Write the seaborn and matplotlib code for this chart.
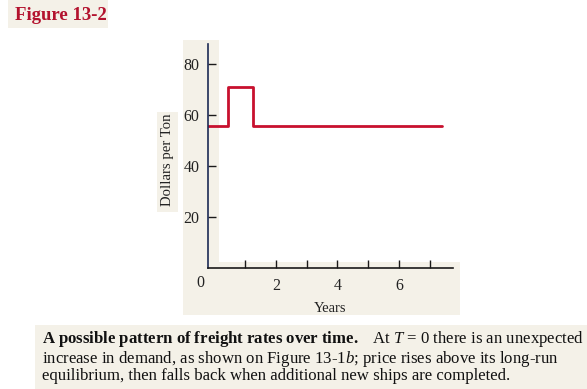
import numpy as np
import pandas as pd
import matplotlib
matplotlib.use("Agg")
import matplotlib.pyplot as plt
import seaborn as sns
from matplotlib.patches import Rectangle

# data
years = [-0.2, 0.45, 1.25, 7.4]        # step change points
rate = [55.5, 71.0, 55.5, 55.5]        # dollars per ton
x_major = [2, 4, 6]
x_minor = [1, 3, 5, 7]
y_ticks = [20, 40, 60, 80]

title_txt = "Figure 13-2"
cap_line1 = r"$\mathbf{A\ possible\ pattern\ of\ freight\ rates\ over\ time.}$   At $T$ = 0 there is an unexpected"
cap_line2 = "increase in demand, as shown on Figure 13-1$b$; price rises above its long-run"
cap_line3 = "equilibrium, then falls back when additional new ships are completed."

sns.set_theme(style="ticks")
plt.rcParams["font.family"] = ["Liberation Serif", "DejaVu Serif"]
plt.rcParams["mathtext.fontset"] = "custom"
plt.rcParams["mathtext.rm"] = "Liberation Serif"
plt.rcParams["mathtext.it"] = "Liberation Serif:italic"
plt.rcParams["mathtext.bf"] = "Liberation Serif:bold"

W, H = 587, 389
fig = plt.figure(figsize=(W / 100, H / 100), dpi=100, facecolor="white")
beige = "#f4f1e8"
red = "#c8102e"

def px_rect(x0, y0, x1, y1, color):
    # pixel coords (top-left origin) -> figure fraction
    fig.patches.append(Rectangle((x0 / W, 1 - y1 / H), (x1 - x0) / W, (y1 - y0) / H,
                                 transform=fig.transFigure, facecolor=color,
                                 edgecolor="none", zorder=-5))

# scanned-page look
px_rect(8, 0, 108, 28, beige)
px_rect(35, 325, 587, 389, beige)
px_rect(183, 40, 460, 315, beige)
px_rect(219, 30, 470, 262, "white")
px_rect(157, 112, 178, 212, beige)

ax = fig.add_axes([208 / W, 1 - 268 / H, 245 / W, 224.4 / H])
ax.set_facecolor("none")
ax.set_zorder(2)

df = pd.DataFrame({"Years": years, "Rate": rate})
sns.lineplot(data=df, x="Years", y="Rate", ax=ax, color=red, lw=2.0,
             drawstyle="steps-post", sort=False)

ax.set_xlim(-0.2, 7.75)
ax.set_ylim(0, 88)
sns.despine(ax=ax)
ax.spines["left"].set_color("#1c2a55")
ax.spines["bottom"].set_color("#1a1a1a")
ax.spines["left"].set_linewidth(1.2)
ax.spines["bottom"].set_linewidth(1.2)

ax.set_xticks(x_major)
ax.set_xticklabels([str(v) for v in x_major])
ax.set_xticks(x_minor, minor=True)
ax.set_yticks(y_ticks)
ax.set_yticklabels([str(v) for v in y_ticks])
ax.tick_params(axis="both", which="both", direction="in", length=6, width=1,
               color="#1a1a1a", labelsize=11.5, labelcolor="#222222")
ax.tick_params(axis="x", pad=7)
ax.tick_params(axis="y", pad=6)

ax.set_xlabel("Years", fontsize=10.5, color="#222222", labelpad=6)
ax.set_ylabel("")
fig.text(168 / W, 1 - 160 / H, "Dollars per Ton", rotation=90, ha="center",
         va="center", fontsize=10.6, color="#222222")
fig.text(200 / W, 1 - 283 / H, "0", ha="center", va="center", fontsize=11.5,
         color="#222222")

fig.text(15 / W, 1 - 15 / H, title_txt, ha="left", va="center", fontsize=13.5,
         fontweight="bold", color="#b3122e")

# caption as one block of text
caption = "\n".join([cap_line1, cap_line2, cap_line3])
fig.text(42 / W, 1 - 380 / H, caption, ha="left", va="baseline",
         multialignment="left", fontsize=12.1, linespacing=0.95, color="#111111")

fig.savefig("out.png", dpi=100, facecolor="white")
